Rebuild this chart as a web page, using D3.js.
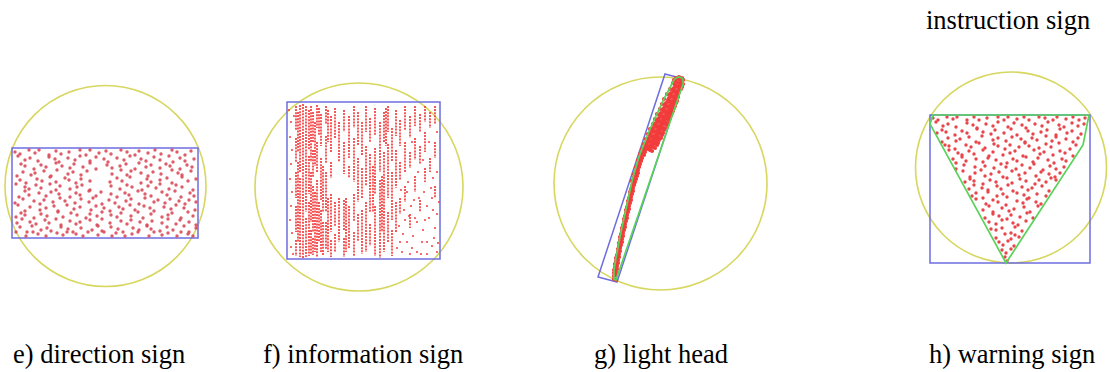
<!DOCTYPE html>
<html><head><meta charset="utf-8">
<script src="https://cdn.jsdelivr.net/npm/d3@7/dist/d3.min.js"></script>
<style>
html,body{margin:0;padding:0;background:#fff;}
svg{display:block;}
</style>
</head><body>
<svg id="c" width="1110" height="372"></svg>
<script>
// ---------- data ----------
const captions = ["e) direction sign", "f) information sign", "g) light head", "h) warning sign"];
const topCaption = "instruction sign";

// bounding geometry per panel (local units)
const eRect = [[0,0],[186,0],[186,90],[0,90]];
const eCircle = [93.5, 38, 100.5];
const fRect = [[0,0],[153,0],[153,157],[0,157]];
const fCircle = [72, 85, 104];
const gRect = [[67,0],[86,5],[19,208],[0,203]];
const gCircle = [62.5, 109.5, 106.5];
const hRect = [[0,0],[160,0],[160,148],[0,148]];
const hCircle = [81, 52.5, 95.5];
const hHull = [[0,9],[3,0],[159,0],[153,30],[76,148]];

// point clouds (local units, "x,y")
const ePoints = [
"3,4 8,6 17,2 23,5 27,2 37,7 44,3 49,6 57,4 68,2 74,7 78,2 87,5 94,3 99,6 109,2 115,4 123,7 127,3 136,5 143,2 149,6 160,2 165,4 173,7 179,3",
"6,8 13,12 18,10 26,13 37,9 43,11 47,14 56,10 63,12 68,8 78,13 84,9 92,11 96,14 105,10 112,12 118,8 129,11 134,13 142,9 148,12 157,8 161,14 168,10 173,13 182,11",
"9,16 13,18 22,21 29,17 34,19 44,15 50,18 58,20 62,16 71,19 78,15 84,21 95,17 100,20 108,18 114,16 123,21 127,15 134,19 139,17 148,20 154,16 158,18 168,21 175,17 180,19",
"5,28 11,24 19,27 23,25 32,23 39,28 45,22 56,26 61,24 69,27 75,23 100,26 109,22 115,27 119,23 129,25 136,28 141,24 149,26 160,22 166,25 170,27 179,23",
"8,32 14,35 25,31 30,33 38,29 44,34 53,30 57,32 64,35 69,31 78,33 98,34 105,30 110,33 118,29 129,35 135,31 139,34 148,32 155,30 160,35 170,29 176,33 184,31",
"4,36 13,39 17,41 24,37 29,40 38,36 44,42 48,38 58,41 65,39 70,37 78,42 99,38 108,41 115,37 120,39 130,42 136,38 144,40 148,36 157,41 164,37 170,39 181,42",
"7,49 13,43 17,47 27,45 34,48 39,44 47,46 58,49 64,45 68,47 77,43 84,48 89,44 99,46 105,49 113,45 117,47 126,43 133,46 139,48 150,44 155,47 163,43 169,49 178,45 182,48",
"3,55 11,51 22,53 28,56 32,52 41,54 48,50 53,53 63,55 69,51 77,54 81,50 90,56 97,52 103,55 114,53 119,51 127,56 133,50 142,54 146,52 153,55 158,51 167,53 173,56 177,52 184,54",
"6,57 13,63 18,59 28,62 34,60 42,58 46,63 55,57 62,61 68,59 79,62 84,58 92,60 98,63 107,59 111,61 118,57 123,62 132,58 138,60 142,63 152,59 159,61 164,57 172,60 183,62",
"4,69 9,65 13,67 22,70 29,66 35,68 46,64 51,69 59,65 65,67 74,70 78,66 85,68 90,64 99,67 105,69 109,65 119,68 126,64 131,70 139,66 150,69 156,67 160,65 169,70 176,64 181,68",
"5,75 10,71 18,74 24,76 33,72 37,75 44,71 49,77 58,73 64,76 68,74 78,72 85,77 90,71 98,75 109,73 115,76 119,72 128,74 135,77 140,73 150,75 156,71 164,76 168,72 177,74 184,77",
"8,79 15,84 20,78 29,82 35,80 39,83 49,79 56,81 61,84 69,80 80,82 86,78 90,83 99,79 106,81 111,84 121,80 127,82 135,78 139,81 148,83 155,79 161,82 172,78 177,84 184,80",
"4,84 14,88 21,84 26,86 34,88 45,85 51,87 55,84 64,86 71,88 76,84 86,87 92,84 100,88 104,85 113,88 120,86 126,84 137,88 142,84 150,87 156,85 165,88 169,84 176,86 181,88"
];

// scan-line runs for the information sign: [x, yStart, yEnd]
const fRuns = [
[9,4,28],[9,36,60],[9,70,96],[9,104,130],[9,138,154],
[11,10,50],[11,60,140],
[13,3,70],[13,76,155],[16,2,156],[19,4,110],[19,116,155],
[22,8,48],[22,54,92],[22,100,154],
[24,4,60],[24,70,120],[24,128,152],
[26,10,40],[26,48,76],[26,84,130],[26,136,153],
[28,20,64],[28,90,150],
[30,3,26],[30,40,70],[30,78,155],
[32,6,34],[32,100,140],
[34,12,44],[34,56,98],[34,108,150],
[36,64,110],[36,120,154],
[39,4,22],[39,34,62],[39,70,110],[39,120,148],
[41,8,40],[41,96,150],
[44,14,50],[44,60,76],[44,92,130],[44,138,155],
[48,6,36],[48,100,124],[48,132,150],
[52,20,60],[52,96,140],
[57,8,30],[57,40,72],[57,98,128],[57,136,155],
[59,96,150],
[62,14,56],[62,64,76],[62,104,146],
[67,4,26],[67,36,80],[67,92,120],[67,130,154],
[71,10,44],[71,56,100],[71,112,140],
[75,20,54],[75,66,96],[75,108,152],
[79,4,30],[79,44,84],[79,100,150],
[83,16,40],[83,52,110],[83,122,144],
[86,64,110],
[88,6,34],[88,46,92],[88,104,154],
[93,20,70],[93,78,156],
[95,74,130],
[97,10,40],[97,50,150],
[99,6,44],
[101,4,30],[101,42,96],[101,110,140],
[105,26,60],[105,70,118],[105,128,154],
[109,8,34],[109,48,86],[109,100,130],
[113,18,44],[113,60,78],[113,96,112],
[118,4,28],[118,40,70],[118,84,100],
[123,14,36],[123,50,66],[123,112,126],
[128,4,24],[128,36,58],[128,74,90],
[133,12,30],[133,44,62],[133,98,110],
[138,4,20],[138,30,50],[138,66,80],
[143,10,26],[143,56,70],
[148,4,22],[148,40,56],[148,84,96]
];
const fDots = [
"4,20 3,35 5,48 4,62 3,77 5,90 4,104 3,118 5,131 4,145 6,152 2,8 7,14",
"112,124 116,132 120,140 125,146 130,150 135,140 140,152 145,144 150,150 118,118 124,104 130,120 136,128 142,116 148,126 115,150 126,134 132,96",
"140,104 146,108 150,112 120,90 127,98 137,90 144,86 150,70 146,76 121,80 131,70 136,58 142,40 150,30 125,40 114,88 140,140 128,116 147,136",
"134,152 151,141 117,108 122,114 145,96 138,118 152,100 123,152 110,146 113,140"
];

const gPoints = [
"16,205 18,206 16,202 18,201 16,199 18,198 17,200 16,196 19,195 17,193 19,192 17,190 20,189 18,191 18,187 20,186 18,184 21,183",
"19,181 21,180 20,182 20,178 22,177 20,175 22,174 21,172 23,171 22,173 21,169 24,168 22,166 24,165 22,163 25,162 23,164 23,160 25,159",
"24,157 26,156 24,154 27,153 25,155 25,151 27,150 26,148 28,147 26,145 29,144 27,146 27,142 29,141 28,139 30,138 28,136 31,135 29,137",
"29,133 31,132 30,130 32,129 30,127 33,126 31,128 31,124 33,123 32,121 34,120 32,118 35,117 33,119 33,115 35,114 34,112 36,111 35,109 37,108 36,110",
"35,106 38,105 36,103 39,102 37,100 40,99 38,101 38,97 40,96 39,94 41,93 40,91 42,90 41,92 41,88 43,87 42,85 44,84 43,86 43,82 46,81 44,79 47,78 45,80",
"34,107 36,100 38,93 40,86 42,80",
"46,76 49,75 52,76 54,77 46,74 49,73 52,74 55,73 57,74 47,71 50,72 53,71 56,70 59,71 49,69 52,68 55,69 58,68 60,69",
"49,66 52,67 55,66 58,65 61,66 51,64 54,63 57,64 60,63 63,64 52,61 55,62 58,61 61,60 64,61 53,59 56,58 59,59 62,58 65,59",
"54,56 57,57 60,56 63,55 66,56 55,54 58,53 61,54 64,53 67,54 57,51 60,52 63,51 66,50 69,51 58,49 61,48 64,49 67,48 70,49",
"59,46 62,47 65,46 68,45 71,46 61,44 64,43 67,44 70,43 72,44 62,41 65,42 68,41 71,40 73,41 63,39 66,38 69,39 72,38 74,39",
"65,36 68,37 71,36 74,35 75,37 66,34 69,33 72,34 75,33 76,34 67,31 70,32 73,31 76,30 77,32 68,29 71,28 74,29 77,28 78,29",
"70,26 73,27 76,26 78,25 79,27 71,24 74,23 77,24 80,23 72,21 75,22 78,21 80,20 73,19 76,18 79,19 81,18",
"75,16 78,17 81,16 83,15 76,14 79,13 82,14 84,13 77,11 80,12 83,11 85,10 75,9 78,8 81,9 84,8 76,6 79,5 82,6 85,6 78,4 81,3 84,4",
"44,75 46,70 48,65 50,60 52,55 55,50 57,45 59,40 62,35 64,30 66,25 69,20 72,15"
];

const hPoints = [
"3,3 8,5 17,2 23,4 27,2 37,5 44,2 49,5 57,3 68,2 74,5 78,2 87,4 94,2 99,5 109,2 115,3 123,5 127,2 136,4 143,2 149,5 155,3",
"6,7 13,11 18,9 26,12 37,8 43,10 47,13 56,9 63,11 68,7 78,12 84,8 92,10 96,13 105,9 112,11 118,7 129,10 134,12 142,8 148,11 154,9",
"7,18 12,15 16,17 25,20 32,16 37,18 47,14 53,17 61,19 65,15 74,18 81,14 87,20 98,16 103,19 111,17 117,15 126,20 130,14 137,18 142,16 151,19",
"12,27 18,23 26,26 30,24 39,22 46,27 52,21 63,25 68,23 76,26 82,22 91,24 95,27 102,23 107,25 116,21 122,26 126,22 136,24 143,27 148,23",
"15,30 19,31 25,34 36,30 41,32 49,28 55,33 64,29 68,31 75,34 80,30 89,32 95,28 99,31 109,33 116,29 121,32 129,28 140,34 146,30",
"19,35 28,38 32,40 39,36 44,39 53,35 59,41 63,37 73,40 80,38 85,36 93,41 104,35 110,39 114,37 123,40 130,36 135,38 143,41",
"23,44 26,48 32,42 36,46 46,44 53,47 58,43 66,45 77,48 83,44 87,46 96,42 103,47 108,43 118,45 124,48 132,44 136,46",
"26,54 34,50 45,52 51,55 55,51 64,53 71,49 76,52 86,54 92,50 100,53 104,49 113,55 120,51 126,54 134,52",
"33,56 40,62 45,58 55,61 61,59 69,57 73,62 82,56 89,60 95,58 106,61 111,57 119,59 125,62 130,58",
"35,67 40,64 44,66 53,69 60,65 66,67 77,63 82,68 90,64 96,66 105,69 109,65 116,67 121,63 126,65",
"39,74 44,70 52,73 58,75 67,71 71,74 78,70 83,76 92,72 98,75 102,73 112,71 119,76",
"42,81 46,78 53,83 58,77 67,81 73,79 77,82 87,78 94,80 99,83 107,79 116,81",
"46,84 56,89 63,85 68,87 76,90 87,86 93,88 97,84 106,87 111,89",
"53,95 59,91 63,97 72,93 79,96 84,94 94,92 100,97 108,91",
"55,103 63,99 69,101 77,104 81,100 90,102 97,98 103,103",
"59,107 66,109 72,105 83,108 88,110 96,106",
"61,114 66,115 72,113 81,118 85,112 92,116",
"66,123 75,119 81,124 85,120 89,122 69,127 73,130 78,126 84,131 72,135 76,138 81,134 75,142 77,146"
];

// ---------- layout ----------
const FONT = "'Liberation Serif', 'Times New Roman', Tinos, 'DejaVu Serif', serif";
const origins = {e:[12,148], f:[287,102], g:[598,74], h:[930,115]};
const captionX = [13, 263, 594, 929], captionY = 363;
const topCaptionPos = [926, 29];

const parse = rows => rows.join(" ").trim().split(/\s+/).map(p => p.split(",").map(Number));

const svg = d3.select("#c");

function panel(key, opts){
  const [ox, oy] = origins[key];
  const x = d3.scaleLinear().domain([0,100]).range([ox, ox+100]);
  const y = d3.scaleLinear().domain([0,100]).range([oy, oy+100]);
  const g = svg.append("g");
  const line = d3.line().x(d=>x(d[0])).y(d=>y(d[1]));
  const [cx, cy, r] = opts.circle;
  g.append("circle").attr("cx", x(cx)).attr("cy", y(cy)).attr("r", x(r)-x(0))
    .attr("fill","none").attr("stroke","#d3d24e").attr("stroke-width",1.6).attr("stroke-opacity",0.9);
  g.append("path").attr("d", line(opts.rect) + "Z")
    .attr("fill","none").attr("stroke","#6d6de0").attr("stroke-width",1.5);
  if (opts.runs){
    g.selectAll("line.run").data(opts.runs).join("line")
      .attr("x1", d=>x(d[0])).attr("x2", d=>x(d[0]))
      .attr("y1", d=>y(d[1])).attr("y2", d=>y(d[2]))
      .attr("stroke","#f23c3c").attr("stroke-width",1.7)
      .attr("stroke-dasharray","2,1.1");
  }
  g.selectAll("circle.pt").data(opts.points).join("circle")
    .attr("cx", d=>x(d[0])).attr("cy", d=>y(d[1])).attr("r", opts.pr)
    .attr("fill", opts.pc).attr("fill-opacity", opts.po || 1);
  if (opts.hull){
    g.append("path").attr("d", line(opts.hull) + "Z")
      .attr("fill","none").attr("stroke","#5ad35a").attr("stroke-width",1.7);
  }
}

panel("e", {circle:eCircle, rect:eRect, points:parse(ePoints), pr:1.7, pc:"#d94b58", po:0.9});
panel("f", {circle:fCircle, rect:fRect, points:parse(fDots), runs:fRuns, pr:1.0, pc:"#f23c3c"});
const gPts = parse(gPoints);
panel("g", {circle:gCircle, rect:gRect, points:gPts, hull:d3.polygonHull(gPts), pr:2.1, pc:"#f23c3c"});
panel("h", {circle:hCircle, rect:hRect, points:parse(hPoints), hull:hHull, pr:1.7, pc:"#e8464b"});

svg.selectAll("text.cap").data(captions).join("text")
  .attr("x", (d,i)=>captionX[i]).attr("y", captionY)
  .attr("font-family", FONT).attr("font-size", 26.5).attr("fill", "#000")
  .text(d=>d);
svg.append("text").attr("x", topCaptionPos[0]).attr("y", topCaptionPos[1])
  .attr("font-family", FONT).attr("font-size", 26.5).attr("fill", "#000")
  .text(topCaption);
</script>
</body></html>
